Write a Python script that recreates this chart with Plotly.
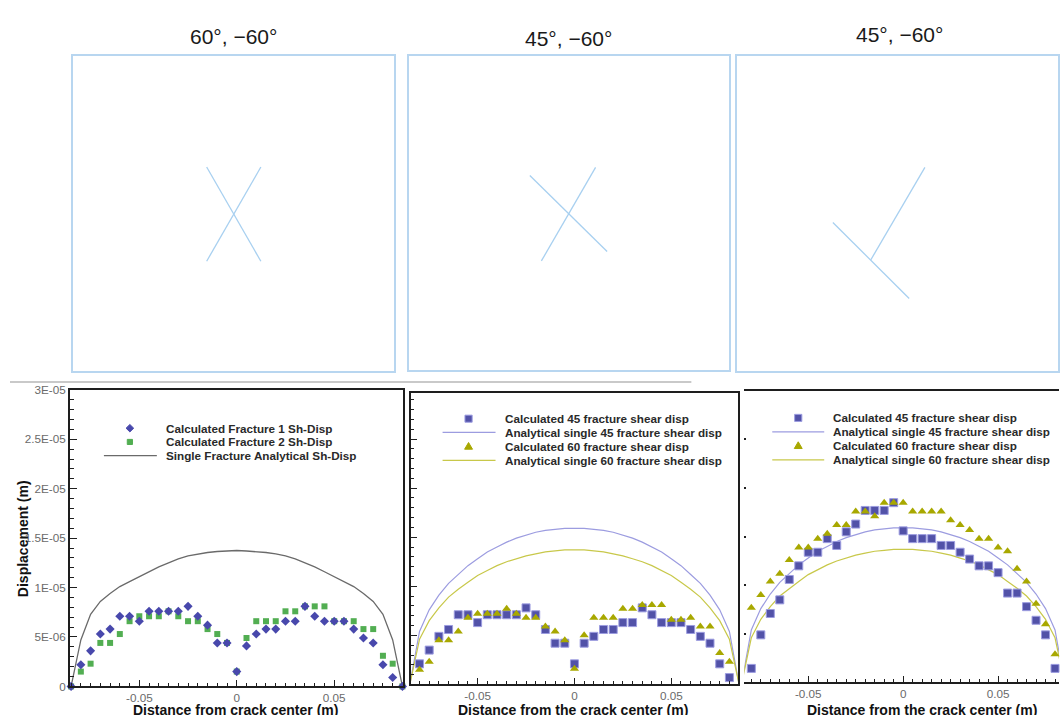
import plotly.graph_objects as go
import numpy as np

W, H = 1060, 715
FONT = "Liberation Sans, Arial, sans-serif"

# ---------------- data ----------------
x_grid = [-0.085, -0.08, -0.075, -0.07, -0.065, -0.06, -0.055, -0.05, -0.045,
          -0.04, -0.035, -0.03, -0.025, -0.02, -0.015, -0.01, -0.005, 0.0,
          0.005, 0.01, 0.015, 0.02, 0.025, 0.03, 0.035, 0.04, 0.045, 0.05,
          0.055, 0.06, 0.065, 0.07, 0.075, 0.08, 0.085]
x_grid3 = x_grid[1:-1]

# panel 1 (60, -60) values in micro-metres
frac1_um = [0, 2.2, 3.6, 5.3, 5.8, 7.1, 7.1, 6.6, 7.6, 7.6, 7.6, 7.6, 8.1, 7.1, 6.2,
            4.4, 4.4, 1.5, 4.1, 5.3, 5.8, 5.8, 6.6, 6.6, 8.1, 7.1, 6.6, 6.6, 6.6,
            5.8, 4.9, 4.4, 2.2, 0.9, 0]
frac2_um = [0, 1.5, 2.3, 4.4, 4.4, 5.3, 6.6, 7.1, 7.1, 7.1, 7.6, 7.1, 6.6, 6.6, 5.8,
            5.3, 4.4, 1.5, 4.9, 6.6, 6.6, 6.6, 7.6, 7.6, 8.1, 8.1, 8.1, 6.6, 6.6,
            6.6, 5.8, 5.8, 3.1, 2.3, 0]
single_ana_um = [0, 4.7, 7.3, 8.6, 9.4, 10.1, 10.6, 11.1, 11.6, 12.1, 12.5, 12.9, 13.2,
                 13.4, 13.55, 13.65, 13.7, 13.75, 13.7, 13.65, 13.55, 13.4, 13.2, 12.9,
                 12.5, 12.1, 11.6, 11.1, 10.6, 10.1, 9.4, 8.6, 7.3, 4.7, 0]

# panel 2 (45, -60) crossing
p2_calc45_um = [0, 2.1, 3.5, 4.9, 5.6, 7.1, 7.1, 6.3, 7.1, 7.1, 7.1, 7.1, 7.8, 7.1, 5.6,
                4.2, 4.2, 2.1, 4.2, 4.9, 5.6, 5.6, 6.3, 6.3, 7.8, 7.1, 6.3, 6.3, 6.3,
                5.6, 4.9, 4.2, 2.1, 0.7, 0]
p2_calc60_um = [0, 1.5, 2.3, 4.5, 4.5, 5.4, 6.8, 7.2, 7.2, 7.2, 7.7, 7.2, 6.8, 6.8, 5.9,
                5.4, 4.5, 1.6, 5.0, 6.8, 6.8, 6.8, 7.7, 7.7, 8.1, 8.1, 8.1, 6.6, 6.6,
                6.8, 5.9, 5.9, 3.2, 2.3, 0]

# panel 3 (45, -60) non-crossing
p3_calc45_um = [1.45, 4.9, 7.1, 8.5, 10.6, 12.0, 13.4, 13.4, 14.8, 14.1, 15.5, 16.3, 17.7,
                17.7, 17.7, 18.5, 15.6, 14.8, 14.8, 14.8, 14.1, 14.1, 13.4, 12.7, 12.0,
                12.0, 11.3, 9.2, 9.2, 7.8, 6.4, 4.9, 1.45]
p3_calc60_um = [7.7, 9.0, 10.4, 11.2, 12.6, 13.9, 13.9, 14.8, 15.3, 16.2, 16.2, 17.6, 17.6,
                17.1, 18.5, 18.5, 18.5, 17.6, 17.6, 17.6, 17.6, 16.7, 16.2, 15.7, 14.8,
                14.8, 13.9, 13.5, 11.7, 10.4, 8.1, 6.0, 2.9]

# analytical single fractures (panels 2 & 3)
ana45_um = [0, 5.4, 7.6, 9.1, 10.3, 11.2, 12.1, 12.8, 13.5, 14.0, 14.5, 14.9, 15.2, 15.5,
            15.7, 15.8, 15.9, 15.9, 15.9, 15.8, 15.7, 15.5, 15.2, 14.9, 14.5, 14.0, 13.5,
            12.8, 12.1, 11.2, 10.3, 9.1, 7.6, 5.4, 0]
ana60_um = [0, 4.6, 6.5, 7.8, 8.9, 9.7, 10.4, 11.1, 11.6, 12.1, 12.5, 12.8, 13.1, 13.3,
            13.5, 13.6, 13.7, 13.7, 13.7, 13.6, 13.5, 13.3, 13.1, 12.8, 12.5, 12.1, 11.6,
            11.1, 10.4, 9.7, 8.9, 7.8, 6.5, 4.6, 0]

y_tickvals = [0, 5e-6, 1e-5, 1.5e-5, 2e-5, 2.5e-5, 3e-5]
y_ticktext = ["0", "5E-06", "1E-05", "1.5E-05", "2E-05", "2.5E-05", "3E-05"]
x_tickvals = [-0.05, 0, 0.05]
x_ticktext = ["-0.05", "0", "0.05"]

panel_titles = ["60\u00b0, \u221260\u00b0", "45\u00b0, \u221260\u00b0", "45\u00b0, \u221260\u00b0"]

# fracture sketches, normalised box coordinates [(u0, v0, u1, v1), ...]
sketch1 = [(0.417, 0.648, 0.586, 0.349), (0.586, 0.648, 0.417, 0.349)]
sketch2 = [(0.378, 0.620, 0.619, 0.378), (0.583, 0.646, 0.414, 0.348)]
sketch3 = [(0.585, 0.647, 0.416, 0.353), (0.298, 0.472, 0.536, 0.231)]

um = 1e-6

# ---------------- colours ----------------
C_DIAM = "#4848ac"
C_GREEN = "#52ae52"
C_SQ = "#5252a8"
C_SQ_EDGE = "#9c9ce0"
C_TRI = "#a8a800"
C_ANA45 = "#9c9ce0"
C_ANA60 = "#c8c84a"
C_GRAY = "#6a6a6a"
C_SKETCH = "#a8d0f0"
C_BOX = "#b8d6f0"


def pxx(p):
    return p / W


def pxy(p):
    return 1 - p / H


fig = go.Figure()

# ---------------- traces ----------------
fig.add_trace(go.Scatter(x=x_grid, y=np.array(single_ana_um) * um, mode="lines",
                         line=dict(color=C_GRAY, width=1.3), xaxis="x", yaxis="y",
                         name="Single Fracture Analytical Sh-Disp"))
fig.add_trace(go.Scatter(x=x_grid, y=np.array(frac2_um) * um, mode="markers",
                         marker=dict(symbol="square", size=6, color=C_GREEN),
                         xaxis="x", yaxis="y", cliponaxis=False,
                         name="Calculated Fracture 2 Sh-Disp"))
fig.add_trace(go.Scatter(x=x_grid, y=np.array(frac1_um) * um, mode="markers",
                         marker=dict(symbol="diamond", size=7, color=C_DIAM),
                         xaxis="x", yaxis="y", cliponaxis=False,
                         name="Calculated Fracture 1 Sh-Disp"))

for ax, c45, c60, xs in [("2", p2_calc45_um, p2_calc60_um, x_grid),
                         ("3", p3_calc45_um, p3_calc60_um, x_grid3)]:
    fig.add_trace(go.Scatter(x=x_grid, y=np.array(ana45_um) * um, mode="lines",
                             line=dict(color=C_ANA45, width=1.2),
                             xaxis="x" + ax, yaxis="y" + ax,
                             name="Analytical single 45 fracture shear disp"))
    fig.add_trace(go.Scatter(x=x_grid, y=np.array(ana60_um) * um, mode="lines",
                             line=dict(color=C_ANA60, width=1.2),
                             xaxis="x" + ax, yaxis="y" + ax,
                             name="Analytical single 60 fracture shear disp"))
    fig.add_trace(go.Scatter(x=xs, y=np.array(c45) * um, mode="markers",
                             marker=dict(symbol="square", size=8, color=C_SQ,
                                         line=dict(color=C_SQ_EDGE, width=1)),
                             xaxis="x" + ax, yaxis="y" + ax, cliponaxis=False,
                             name="Calculated 45 fracture shear disp"))
    fig.add_trace(go.Scatter(x=xs, y=np.array(c60) * um, mode="markers",
                             marker=dict(symbol="triangle-up", size=8, color=C_TRI),
                             xaxis="x" + ax, yaxis="y" + ax, cliponaxis=False,
                             name="Calculated 60 fracture shear disp"))

# sketches in top boxes
for i, sk in enumerate([sketch1, sketch2, sketch3]):
    ax = str(4 + i)
    for (u0, v0, u1, v1) in sk:
        fig.add_trace(go.Scatter(x=[u0, u1], y=[v0, v1], mode="lines",
                                 line=dict(color=C_SKETCH, width=1.3),
                                 xaxis="x" + ax, yaxis="y" + ax, hoverinfo="skip"))

# ---------------- axes ----------------
tickfont = dict(family=FONT, size=11.7, color="#6a6a6a")
AXC = "#1e1e1e"


def xax(domain, rng, anchor, labels=True, mirror=True):
    return dict(domain=domain, range=rng, anchor=anchor, showline=True, linecolor=AXC,
                linewidth=1.6, mirror=mirror, ticks="inside", ticklen=7, tickwidth=1.2,
                tickcolor=AXC, tickmode="array", tickvals=x_tickvals, ticktext=x_ticktext,
                tickfont=tickfont, showticklabels=labels, showgrid=False, zeroline=False,
                ticklabelstandoff=0,
                minor=dict(tickmode="linear", tick0=0, dtick=0.005, ticks="inside",
                           ticklen=4, tickcolor=AXC, tickwidth=1, showgrid=False))


def yax(domain, rng, anchor, labels=True, showline=True, small=False):
    d = dict(domain=domain, range=rng, anchor=anchor, showline=showline, linecolor=AXC,
             linewidth=1.6, mirror=True, ticks="inside", ticklen=2 if small else 7,
             tickwidth=1.5 if small else 1.2,
             tickcolor=AXC, tickmode="array", tickvals=y_tickvals, ticktext=y_ticktext,
             tickfont=tickfont, showticklabels=labels, showgrid=False, zeroline=False)
    if not small:
        d["minor"] = dict(tickmode="linear", tick0=0, dtick=1e-6, ticks="inside",
                          ticklen=4, tickcolor=AXC, tickwidth=1, showgrid=False)
    return d


layout = dict(
    width=W, height=H, margin=dict(l=0, r=0, t=0, b=0),
    paper_bgcolor="white", plot_bgcolor="rgba(0,0,0,0)", showlegend=False,
    font=dict(family=FONT),
    xaxis=xax([pxx(70), pxx(403)], [-0.0856, 0.0851], "y"),
    yaxis=yax([pxy(692), pxy(390)], [0, 3e-5], "x"),
    xaxis2=xax([pxx(411), pxx(739)], [-0.0846, 0.0846], "y2", labels=True),
    yaxis2=yax([pxy(690), pxy(393)], [0, 2.97e-5], "x2", labels=False),
    xaxis3=xax([pxx(745), 1.0], [-0.0837, 0.0821], "y3", labels=True),
    yaxis3=yax([pxy(688), pxy(391)], [0, 3e-5], "x3", labels=False, showline=False,
               small=True),
)

boxes = [(73, 394, 50, 371), (409, 730, 50, 370), (738, 1059, 50, 371)]
for i, (x0, x1, y0, y1) in enumerate(boxes):
    k = str(4 + i)
    common = dict(showline=True, linecolor=C_BOX, linewidth=2, mirror=True,
                  showticklabels=False, ticks="", showgrid=False, zeroline=False,
                  range=[0, 1], fixedrange=True)
    layout["xaxis" + k] = dict(domain=[pxx(x0), pxx(x1)], anchor="y" + k, **common)
    layout["yaxis" + k] = dict(domain=[pxy(y1), pxy(y0)], anchor="x" + k, **common)

fig.update_layout(**layout)

# ---------------- annotations ----------------
ann = []
title_pos = [(234, 30), (569, 32), (900, 28.5)]
for t, (cx, cy) in zip(panel_titles, title_pos):
    ann.append(dict(text=t, x=pxx(cx), y=pxy(cy), xref="paper", yref="paper",
                    xanchor="center", yanchor="middle", showarrow=False,
                    font=dict(family=FONT, size=21, color="#1a1a1a")))

xt = [("Distance from crack center (m)", 236),
      ("Distance from the crack center (m)", 574),
      ("Distance from the crack center (m)", 923)]
for t, cx in xt:
    ann.append(dict(text="<b>" + t + "</b>", x=pxx(cx), y=pxy(705.5), xref="paper",
                    yref="paper", xanchor="center", yanchor="top", showarrow=False,
                    font=dict(family=FONT, size=14, color="#111")))

ann.append(dict(text="<b>Displacement (m)</b>", x=pxx(23), y=pxy(541), xref="paper",
                yref="paper", xanchor="center", yanchor="middle", textangle=-90,
                showarrow=False, font=dict(family=FONT, size=14, color="#111")))

shapes = []

# separator under sketches
shapes.append(dict(type="line", xref="paper", yref="paper", x0=pxx(10), x1=pxx(692),
                   y0=pxy(382), y1=pxy(382), line=dict(color="#c9c9c9", width=2)))


def leg_text(t, x, y):
    ann.append(dict(text="<b>" + t + "</b>", x=pxx(x), y=pxy(y), xref="paper",
                    yref="paper", xanchor="left", yanchor="middle", showarrow=False,
                    font=dict(family=FONT, size=11.7, color="#2a2a2a")))


def leg_line(x0, x1, y, color, w=1.3):
    shapes.append(dict(type="line", xref="paper", yref="paper", x0=pxx(x0), x1=pxx(x1),
                       y0=pxy(y), y1=pxy(y), line=dict(color=color, width=w)))


def leg_path(pts, color, edge=None):
    p = "M " + " L ".join("%.5f,%.5f" % (pxx(a), pxy(b)) for a, b in pts) + " Z"
    shapes.append(dict(type="path", xref="paper", yref="paper", path=p,
                       fillcolor=color, line=dict(color=edge or color, width=1)))


def leg_diamond(cx, cy, r, color):
    leg_path([(cx - r, cy), (cx, cy - r), (cx + r, cy), (cx, cy + r)], color)


def leg_square(cx, cy, r, color, edge=None):
    leg_path([(cx - r, cy - r), (cx + r, cy - r), (cx + r, cy + r), (cx - r, cy + r)],
             color, edge)


def leg_tri(cx, cy, r, color):
    leg_path([(cx - r * 1.1, cy + r * 0.75), (cx + r * 1.1, cy + r * 0.75),
              (cx, cy - r * 1.15)], color)


# panel 1 legend
r1 = [429, 443, 457]
leg_diamond(130, r1[0], 3.8, C_DIAM)
leg_text("Calculated Fracture 1 Sh-Disp", 164, r1[0])
leg_square(130, r1[1], 2.6, C_GREEN)
leg_text("Calculated Fracture 2 Sh-Disp", 164, r1[1])
leg_line(104, 157, r1[2], C_GRAY)
leg_text("Single Fracture Analytical Sh-Disp", 164, r1[2])

# panels 2 & 3 legends
for mx, lx0, lx1, tx, rows in [(469, 443, 496, 503, [419.3, 433.3, 447.7, 461.7]),
                               (799, 773, 825, 832, [418.5, 432.8, 447, 461.3])]:
    leg_square(mx, rows[0], 3.6, C_SQ, C_SQ_EDGE)
    leg_text("Calculated 45 fracture shear disp", tx, rows[0])
    leg_line(lx0, lx1, rows[1], C_ANA45)
    leg_text("Analytical single 45 fracture shear disp", tx, rows[1])
    leg_tri(mx, rows[2], 3.6, C_TRI)
    leg_text("Calculated 60 fracture shear disp", tx, rows[2])
    leg_line(lx0, lx1, rows[3], C_ANA60)
    leg_text("Analytical single 60 fracture shear disp", tx, rows[3])

fig.update_layout(annotations=ann, shapes=shapes)

fig.write_html(
    "out.html",
    config={"displayModeBar": False},
    post_script="document.body.style.margin='0';document.body.style.padding='0';"
                "document.documentElement.style.overflow='hidden';",
)
